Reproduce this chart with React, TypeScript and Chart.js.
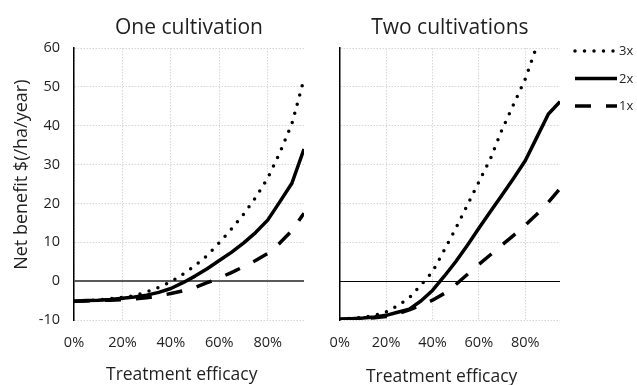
import { useEffect, useRef } from 'react';
import { Chart, registerables } from 'chart.js';

Chart.register(...registerables);

// Treatment efficacy (%) at which net benefit was computed
const efficacy = [0, 5, 10, 15, 20, 25, 30, 35, 40, 45, 50, 55, 60, 65, 70, 75, 80, 85, 90, 95];

// Net benefit $(/ha/year), one cultivation
const one3x = [-5.2, -5.0, -4.8, -4.5, -4.2, -3.7, -2.8, -1.6, -0.2, 1.8, 4.0, 6.6, 9.9, 13.4, 17.2, 21.5, 26.5, 33.0, 40.5, 52.0];
const one2x = [-5.2, -5.0, -4.9, -4.7, -4.4, -4.1, -3.6, -2.9, -1.9, -0.4, 1.3, 3.2, 5.3, 7.4, 9.8, 12.5, 15.7, 20.4, 25.2, 34.0];
const one1x = [-5.2, -5.1, -5.0, -4.9, -4.8, -4.6, -4.3, -3.8, -3.2, -2.5, -1.6, -0.4, 0.8, 2.2, 3.7, 5.3, 7.1, 9.8, 13.0, 17.5];

// Net benefit $(/ha/year), two cultivations
const two3x = [-9.8, -9.6, -9.3, -8.8, -7.9, -6.3, -4.3, -1.0, 2.4, 7.9, 13.5, 19.5, 25.5, 31.5, 39.0, 45.5, 52.0, 60.5, 69.0, 78.0];
const two2x = [-9.8, -9.7, -9.5, -9.2, -8.8, -8.0, -7.2, -5.1, -2.4, 1.2, 5.0, 9.2, 13.6, 17.9, 22.2, 26.5, 31.0, 37.0, 43.0, 46.2];
const two1x = [-9.8, -9.7, -9.6, -9.4, -9.1, -8.4, -7.4, -6.2, -4.9, -3.2, -0.9, 1.7, 4.3, 6.8, 9.3, 11.8, 14.4, 17.2, 20.3, 23.8];

const seriesLabels = ['3x', '2x', '1x'];
const xTickValues = [0, 20, 40, 60, 80];
const yMin = -10;
const yMax = 60;
const yStep = 10;

const FONT = '"Open Sans", "Noto Sans", sans-serif';
const TEXT = '#1f1f1f';
const GRID = '#d6d6d6';

const lineStyles = [
  { borderDash: [0, 9.5], borderCapStyle: 'round' },
  { borderDash: [], borderCapStyle: 'butt' },
  { borderDash: [16, 15], borderCapStyle: 'butt' },
];

function buildDatasets(series: number[][]) {
  return series.map((values, i) => ({
    label: seriesLabels[i],
    data: efficacy.map((x, j) => ({ x, y: values[j] })),
    borderColor: '#000',
    borderWidth: 3.5,
    borderDash: lineStyles[i].borderDash,
    borderCapStyle: lineStyles[i].borderCapStyle,
    borderJoinStyle: 'round',
    pointRadius: 0,
    tension: 0,
    fill: false,
  }));
}

// Solid horizontal line at zero net benefit, snapped to the pixel grid
const zeroLine = {
  id: 'zeroLine',
  beforeDatasetsDraw(chart: any, _args: any, opts: any) {
    const { ctx, chartArea } = chart;
    const raw = chart.scales.y.getPixelForValue(0);
    const y = opts.width % 2 === 1 ? Math.round(raw - 0.5) + 0.5 : Math.round(raw);
    ctx.save();
    ctx.strokeStyle = opts.color;
    ctx.lineWidth = opts.width;
    ctx.beginPath();
    ctx.moveTo(chartArea.left, y);
    ctx.lineTo(chartArea.right, y);
    ctx.stroke();
    ctx.restore();
  },
};

// Axis captions
const captions = {
  id: 'captions',
  afterDraw(chart: any, _args: any, opts: any) {
    const { ctx, chartArea } = chart;
    (opts.items || []).forEach((item: any) => {
      const x = item.dx !== undefined ? (chartArea.left + chartArea.right) / 2 + item.dx : item.x;
      ctx.save();
      ctx.font = `${item.size}px ${FONT}`;
      ctx.fillStyle = TEXT;
      ctx.textAlign = 'center';
      ctx.textBaseline = 'middle';
      ctx.translate(x, item.y);
      if (item.rotate) ctx.rotate(-Math.PI / 2);
      ctx.fillText(item.text, 0, 0);
      ctx.restore();
    });
  },
};

// Legend drawn with the same line styles as the series
const lineLegend = {
  id: 'lineLegend',
  afterDraw(chart: any, _args: any, opts: any) {
    if (!opts.show) return;
    const ctx = chart.ctx;
    chart.data.datasets.forEach((ds: any, i: number) => {
      const y = opts.top + i * opts.rowGap;
      ctx.save();
      ctx.strokeStyle = ds.borderColor;
      ctx.lineWidth = ds.borderWidth;
      ctx.setLineDash(ds.borderDash || []);
      ctx.lineCap = ds.borderCapStyle || 'butt';
      ctx.beginPath();
      ctx.moveTo(opts.left, y);
      ctx.lineTo(opts.left + opts.length, y);
      ctx.stroke();
      ctx.setLineDash([]);
      ctx.font = `${opts.size}px ${FONT}`;
      ctx.fillStyle = TEXT;
      ctx.textAlign = 'left';
      ctx.textBaseline = 'middle';
      ctx.fillText(ds.label, opts.left + opts.length + 2, y + 0.5);
      ctx.restore();
    });
  },
};

type PanelProps = {
  title: string;
  series: number[][];
  left: number;
  width: number;
  first: boolean;
};

function Panel({ title, series, left, width, first }: PanelProps) {
  const ref = useRef<HTMLCanvasElement | null>(null);

  useEffect(() => {
    if (!ref.current) return;
    const chart = new Chart(ref.current, {
      type: 'line',
      data: { datasets: buildDatasets(series) as any },
      plugins: [zeroLine, captions, lineLegend],
      options: {
        responsive: false,
        animation: false,
        layout: { padding: { left: 0, right: first ? 11 : 77, top: 0, bottom: 0 } },
        scales: {
          x: {
            type: 'linear',
            min: 0,
            max: 95,
            afterBuildTicks: (scale: any) => {
              scale.ticks = xTickValues.map((value) => ({ value }));
            },
            afterFit: (scale: any) => {
              scale.height = 65;
            },
            ticks: {
              padding: 14.6,
              color: TEXT,
              font: { family: FONT, size: 14.5 },
              callback: (v: any) => `${v}%`,
            },
            grid: { color: GRID, lineWidth: 1, drawTicks: false },
            border: { display: false, dash: [1.5, 1.5] },
          },
          y: {
            type: 'linear',
            min: yMin,
            max: yMax,
            afterFit: (scale: any) => {
              scale.width = first ? 74 : 13;
            },
            ticks: {
              display: first,
              stepSize: yStep,
              padding: 14,
              color: TEXT,
              font: { family: FONT, size: 14.5 },
            },
            grid: { color: GRID, lineWidth: 1, drawTicks: false },
            border: { display: true, color: '#000', width: 1.5, dash: [1.5, 1.5] },
          },
        },
        plugins: {
          legend: { display: false },
          tooltip: { enabled: false },
          title: {
            display: true,
            text: title,
            fullSize: false,
            color: TEXT,
            font: { family: FONT, size: 21, weight: 'normal' },
            padding: { top: 15.9, bottom: 6.9 },
          },
          zeroLine: { color: first ? '#5a5a5a' : '#000', width: first ? 2 : 1 },
          captions: {
            items: first
              ? [
                  { text: 'Treatment efficacy', dx: -7.3, y: 375.2, size: 17.5 },
                  { text: 'Net benefit $(/ha/year)', x: 21.4, y: 174.7, size: 18, rotate: true },
                ]
              : [{ text: 'Treatment efficacy', dx: -8.2, y: 377, size: 17.5 }],
          },
          lineLegend: { show: !first, left: 260, length: 42, top: 51, rowGap: 27.5, size: 13 },
        } as any,
      },
    });
    return () => chart.destroy();
  }, [title, series, first]);

  return (
    <canvas
      ref={ref}
      width={width}
      height={385}
      style={{ position: 'absolute', left, top: 0, width, height: 385 }}
    />
  );
}

export default function App() {
  return (
    <div style={{ position: 'absolute', left: 0, top: 0, width: 637, height: 385, background: '#fff' }}>
      <Panel title="One cultivation" series={[one3x, one2x, one1x]} left={0} width={315} first={true} />
      <Panel title="Two cultivations" series={[two3x, two2x, two1x]} left={315} width={322} first={false} />
    </div>
  );
}
